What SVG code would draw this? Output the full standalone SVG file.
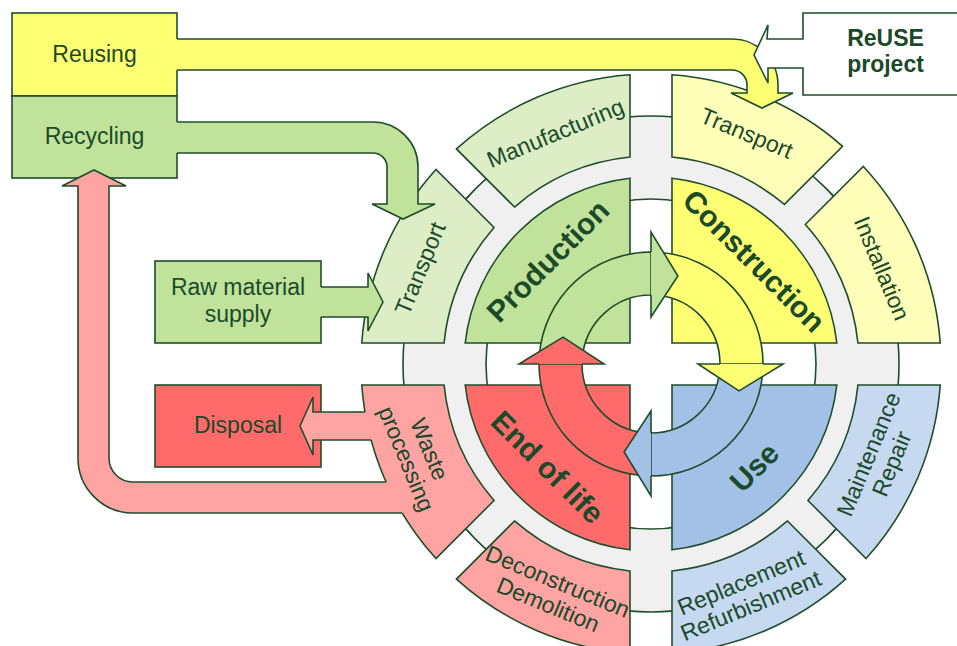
<svg xmlns="http://www.w3.org/2000/svg" width="957" height="646" viewBox="0 0 957 646">
  <style>
    .ln { stroke: #1e4d2b; stroke-width: 1.6; stroke-linejoin: miter; }
    .nf { fill: none; }
    .ns { stroke: none; }
    .grey { fill: #f0f0f0; }
    .white { fill: #ffffff; }
    .y1 { fill: #ffff73; }
    .y2 { fill: #ffffb9; }
    .g1 { fill: #c0e29a; }
    .g2 { fill: #ddeec6; }
    .r1 { fill: #ff6b6b; }
    .r2 { fill: #ffa3a3; }
    .b1 { fill: #a3c1e6; }
    .b2 { fill: #c7d9f1; }
    text { font-family: "Liberation Sans", Arial, sans-serif; font-size: 23px; fill: #1a4a2a; text-anchor: middle; }
    .big { font-size: 30px; font-weight: bold; }
    .bold { font-weight: bold; }
  </style>

  <!-- light grey ring behind the wheel -->
  <g id="ring">
    <circle class="grey ln" cx="651" cy="364" r="248"/>
    <circle class="white ln" cx="651" cy="364" r="165"/>
  </g>

  <!-- inner phases -->
  <g id="production">
    <path class="g1 ln" d="M630,343 L465.2,343 A187,187 0 0 1 630,178.2 Z"/>
    <text class="big" transform="translate(547.8,260.8) rotate(-45)" dy="0.35em">Production</text>
  </g>
  <g id="construction">
    <path class="y1 ln" d="M672,343 L672,178.2 A187,187 0 0 1 836.8,343 Z"/>
    <text class="big" transform="translate(754.2,260.8) rotate(45)" dy="0.35em">Construction</text>
  </g>
  <g id="use">
    <path class="b1 ln" d="M672,385 L836.8,385 A187,187 0 0 1 672,549.8 Z"/>
    <text class="big" transform="translate(754.2,467.2) rotate(-45)" dy="0.35em">Use</text>
  </g>
  <g id="end-of-life">
    <path class="r1 ln" d="M630,385 L630,549.8 A187,187 0 0 1 465.2,385 Z"/>
    <text class="big" transform="translate(547.8,467.2) rotate(45)" dy="0.35em">End of life</text>
  </g>

  <!-- circular arrows in the middle: bodies first, heads on top -->
  <g id="cycle-arrows">
    <path class="g1 ln" d="M539.43,354.24 A112,112 0 0 1 651,252 L651,295 A69,69 0 0 0 582.26,357.99 Z"/>
    <path class="y1 ln" d="M660.76,252.43 A112,112 0 0 1 763,364 L720,364 A69,69 0 0 0 657.01,295.26 Z"/>
    <path class="b1 ln" d="M762.57,373.76 A112,112 0 0 1 651,476 L651,433 A69,69 0 0 0 719.74,370.01 Z"/>
    <path class="r1 ln" d="M641.24,475.57 A112,112 0 0 1 539,364 L582,364 A69,69 0 0 0 644.99,432.74 Z"/>
    <path class="g1 ln" d="M651,252 L651,232 L677.9,276 L651,317 L651,295"/>
    <path class="y1 ln" d="M763,364 L783,364 L739,390.9 L698,364 L720,364"/>
    <path class="b1 ln" d="M651,476 L651,496 L624.1,452 L651,411 L651,433"/>
    <path class="r1 ln" d="M539,364 L519,364 L563,337.1 L604,364 L582,364"/>
  </g>

  <!-- outer steps -->
  <g id="manufacturing">
    <path class="g2 ln" d="M514.53,207.03 L456.44,148.94 A290,290 0 0 1 630,74.76 L630,157.06 A208,208 0 0 0 514.53,207.03 Z"/>
    <text transform="translate(555.3,133) rotate(-22.5)" dy="0.35em">Manufacturing</text>
  </g>
  <g id="transport-construction">
    <path class="y2 ln" d="M672,157.06 L672,74.76 A290,290 0 0 1 842.56,146.28 L784.42,204.42 A208,208 0 0 0 672,157.06 Z"/>
    <text transform="translate(746.7,133) rotate(22.5)" dy="0.35em">Transport</text>
  </g>
  <g id="installation">
    <path class="y2 ln" d="M805.31,224.53 L863.35,166.49 A290,290 0 0 1 940.24,343 L857.94,343 A208,208 0 0 0 805.31,224.53 Z"/>
    <text transform="translate(882,268.3) rotate(67.5)" dy="0.35em">Installation</text>
  </g>
  <g id="maintenance">
    <path class="b2 ln" d="M857.94,385 L940.24,385 A290,290 0 0 1 866.06,558.56 L807.97,500.47 A208,208 0 0 0 857.94,385 Z"/>
    <text transform="translate(880,459) rotate(-67.5)"><tspan x="0" y="-4.5">Maintenance</tspan><tspan x="0" y="20.5">Repair</tspan></text>
  </g>
  <g id="replacement">
    <path class="b2 ln" d="M787.47,520.97 L845.56,579.06 A290,290 0 0 1 672,653.24 L672,570.94 A208,208 0 0 0 787.47,520.97 Z"/>
    <text transform="translate(746,594) rotate(-22.5)"><tspan x="0" y="-4.5">Replacement</tspan><tspan x="0" y="20.5">Refurbishment</tspan></text>
  </g>
  <g id="deconstruction">
    <path class="r2 ln" d="M630,570.94 L630,653.24 A290,290 0 0 1 456.44,579.06 L514.53,520.97 A208,208 0 0 0 630,570.94 Z"/>
    <text transform="translate(553,593) rotate(22.5)"><tspan x="0" y="-4.5">Deconstruction</tspan><tspan x="0" y="20.5">Demolition</tspan></text>
  </g>
  <g id="waste-processing">
    <path class="r2 ln" d="M494.03,500.47 L435.94,558.56 A290,290 0 0 1 361.76,385 L444.06,385 A208,208 0 0 0 494.03,500.47 Z"/>
    <text transform="translate(418,454) rotate(67.5)"><tspan x="0" y="-4.5">Waste</tspan><tspan x="0" y="20.5">processing</tspan></text>
  </g>
  <g id="transport-production">
    <path class="g2 ln" d="M444.06,343 L361.76,343 A290,290 0 0 1 435.94,169.44 L494.03,227.53 A208,208 0 0 0 444.06,343 Z"/>
    <text transform="translate(420,268.3) rotate(-67.5)" dy="0.35em">Transport</text>
  </g>

  <!-- side boxes -->
  <g id="reusing">
    <rect class="y1 ln" x="12" y="13" width="165" height="83"/>
    <text x="94.5" y="62">Reusing</text>
  </g>
  <g id="recycling">
    <rect class="g1 ln" x="12" y="96" width="165" height="82"/>
    <text x="94.5" y="144">Recycling</text>
  </g>
  <g id="raw-material">
    <rect class="g1 ln" x="155" y="261" width="166" height="82"/>
    <text x="238" y="295">Raw material</text>
    <text x="238" y="322">supply</text>
  </g>
  <g id="disposal">
    <rect class="r1 ln" x="155" y="385" width="166" height="82"/>
    <text x="238" y="433">Disposal</text>
  </g>

  <!-- flows between the boxes and the wheel -->
  <g id="connectors">
    <path class="y1 ns" d="M174,39 L732,39 A46,46 0 0 1 778,85 L778,93 L793,93 L762,108 L731,93 L747,93 L747,85 A15,15 0 0 0 732,70 L174,70 Z"/>
    <path class="ln nf" d="M177,39 L732,39 A46,46 0 0 1 778,85 L778,93 L793,93 L762,108 L731,93 L747,93 L747,85 A15,15 0 0 0 732,70 L177,70"/>

    <path class="g1 ns" d="M174,122 L373,122 A45,45 0 0 1 418,167 L418,204 L435,204 L403,219 L372,204 L387,204 L387,167 A14,14 0 0 0 373,153 L174,153 Z"/>
    <path class="ln nf" d="M177,122 L373,122 A45,45 0 0 1 418,167 L418,204 L435,204 L403,219 L372,204 L387,204 L387,167 A14,14 0 0 0 373,153 L177,153"/>

    <path class="g1 ns" d="M318,287 L368,287 L368,273 L383,302 L368,331 L368,317 L318,317 Z"/>
    <path class="ln nf" d="M321,287 L368,287 L368,273 L383,302 L368,331 L368,317 L321,317"/>

    <path class="r2 ns" d="M371,412 L313,412 L313,397 L300,426 L313,455 L313,440 L377,440 Z"/>
    <path class="ln nf" d="M365,412 L313,412 L313,397 L300,426 L313,455 L313,440 L371.1,440"/>

    <path class="r2 ns" d="M392,482 L133,482 A24,24 0 0 1 109,458 L109,186 L126,186 L94,170 L62,186 L78,186 L78,458 A55,55 0 0 0 133,513 L408,513 Z"/>
    <path class="ln nf" d="M386.1,482 L133,482 A24,24 0 0 1 109,458 L109,186 L126,186 L94,170 L62,186 L78,186 L78,458 A55,55 0 0 0 133,513 L402.2,513"/>
  </g>

  <!-- project callout -->
  <g id="reuse-project">
    <path class="white ln" d="M960,13 L803,13 L803,39 L767,39 L768,25 L754,55 L768,83 L768,68 L803,68 L803,95 L960,95"/>
    <text class="bold" x="885.5" y="46">ReUSE</text>
    <text class="bold" x="885.5" y="72">project</text>
  </g>
</svg>
